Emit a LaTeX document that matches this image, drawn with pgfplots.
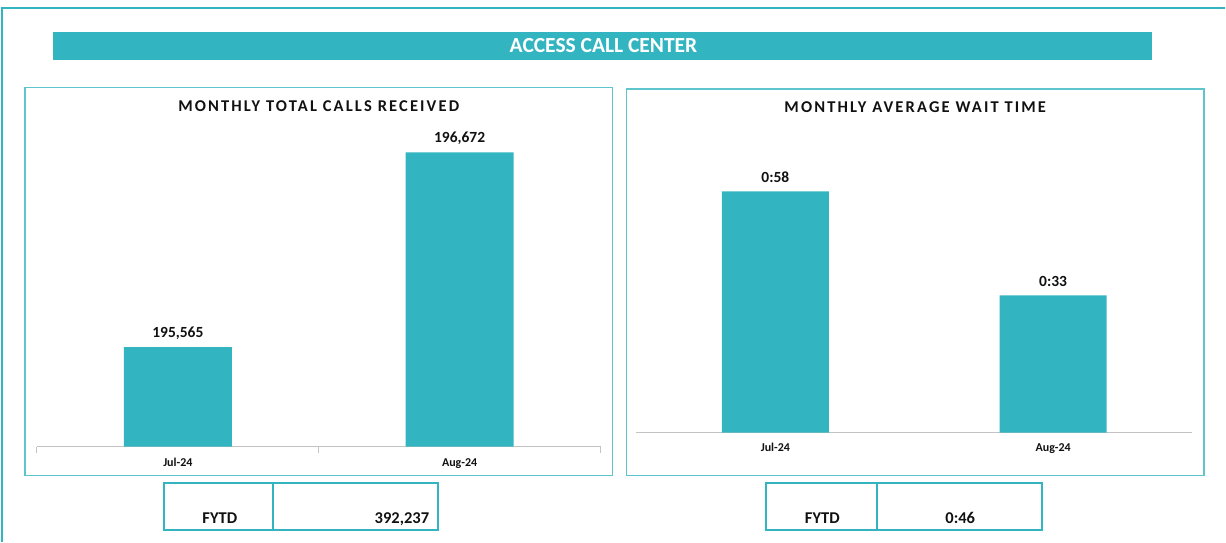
\documentclass[border=0pt]{standalone}
\usepackage{pgfplots}
\pgfplotsset{compat=1.18}
\usepackage{fontspec}
\setmainfont{Carlito}
\definecolor{teal1}{RGB}{51,181,193}
\definecolor{panelb}{RGB}{94,196,205}
\definecolor{axgray}{RGB}{195,195,195}
\definecolor{txt}{RGB}{17,17,17}
\begin{document}
\begin{tikzpicture}[x=1pt,y=1pt]
% canvas
\path (0,0) rectangle (1226,542);
% outer border
\draw[teal1, line width=2pt] (2,0) -- (2,533.5) -- (1226,533.5);
% title bar
\fill[teal1] (53,482) rectangle (1153,510);
\node[text=white, font=\fontsize{21.5}{24}\selectfont\bfseries] at (604,496) {ACCESS CALL CENTER};
% panels
\draw[panelb, line width=1.3pt] (25,66) rectangle (613,454.5);
\draw[panelb, line width=1.3pt] (627,66) rectangle (1205,453);
\node[text=txt, font=\fontsize{16.5}{18}\selectfont\bfseries\addfontfeatures{LetterSpace=13}] at (319,436) {MONTHLY TOTAL CALLS RECEIVED};
\node[text=txt, font=\fontsize{16.5}{18}\selectfont\bfseries\addfontfeatures{LetterSpace=13}] at (916,435) {MONTHLY AVERAGE WAIT TIME};

% left chart
\begin{axis}[
  at={(37pt,95pt)}, anchor=south west, scale only axis,
  width=564pt, height=327pt,
  xmin=-0.5, xmax=1.5, ymin=195000, ymax=196856,
  axis y line=none, axis x line=bottom,
  x axis line style={-, draw=axgray, line width=1.3pt},
  xtick={-0.5,0.5,1.5}, xticklabels={},
  major tick length=6pt, tick align=outside,
  xtick style={draw=axgray, line width=1pt},
  extra x ticks={0,1}, extra x tick labels={Jul-24,Aug-24},
  extra x tick style={major tick length=0pt, tick style={draw=none}},
  xticklabel style={font=\fontsize{12}{14}\selectfont\bfseries, text=txt, yshift=-8pt},
  ybar, bar width=108pt,
  nodes near coords,
  point meta=y,
  /pgf/number format/.cd, fixed, precision=0, 1000 sep={,}, assume math mode=true,
  /pgfplots/.cd,
  every node near coord/.append style={font=\fontsize{15.5}{18}\selectfont\bfseries, text=txt, anchor=base, yshift=10pt, inner sep=0pt},
  clip=false,
]
\addplot[fill=teal1, draw=none] coordinates {(0,195565) (1,196672)};
\end{axis}

% right chart
\begin{axis}[
  at={(637pt,109pt)}, anchor=south west, scale only axis,
  width=556pt, height=313pt,
  xmin=-0.5, xmax=1.5, ymin=0, ymax=75.15,
  axis y line=none, axis x line=bottom,
  x axis line style={-, draw=axgray, line width=1.3pt},
  xtick={0,1}, xticklabels={Jul-24,Aug-24},
  major tick length=0pt, xtick style={draw=none},
  xticklabel style={font=\fontsize{12}{14}\selectfont\bfseries, text=txt, yshift=-7pt},
  ybar, bar width=107pt,
  nodes near coords,
  point meta=explicit symbolic,
  every node near coord/.append style={font=\fontsize{15.5}{18}\selectfont\bfseries, text=txt, anchor=base, yshift=9pt, inner sep=0pt},
  clip=false,
]
\addplot[fill=teal1, draw=none] table[x=x, y=y, meta=lab] {
x y lab
0 58 0:58
1 33 0:33
};
\end{axis}

% FYTD boxes
\draw[teal1, line width=2pt] (164,12) rectangle (438,59);
\draw[teal1, line width=2pt] (273,12) -- (273,59);
\node[text=txt, font=\fontsize{16.5}{20}\selectfont\bfseries, anchor=base] at (220,18) {FYTD};
\node[text=txt, font=\fontsize{16.5}{20}\selectfont\bfseries, anchor=base east] at (433,18) {392,237};

\draw[teal1, line width=2pt] (767,12) rectangle (1043,59);
\draw[teal1, line width=2pt] (878,12) -- (878,59);
\node[text=txt, font=\fontsize{16.5}{20}\selectfont\bfseries, anchor=base] at (823,18) {FYTD};
\node[text=txt, font=\fontsize{16.5}{20}\selectfont\bfseries, anchor=base] at (961,18) {0:46};
\end{tikzpicture}
\end{document}
